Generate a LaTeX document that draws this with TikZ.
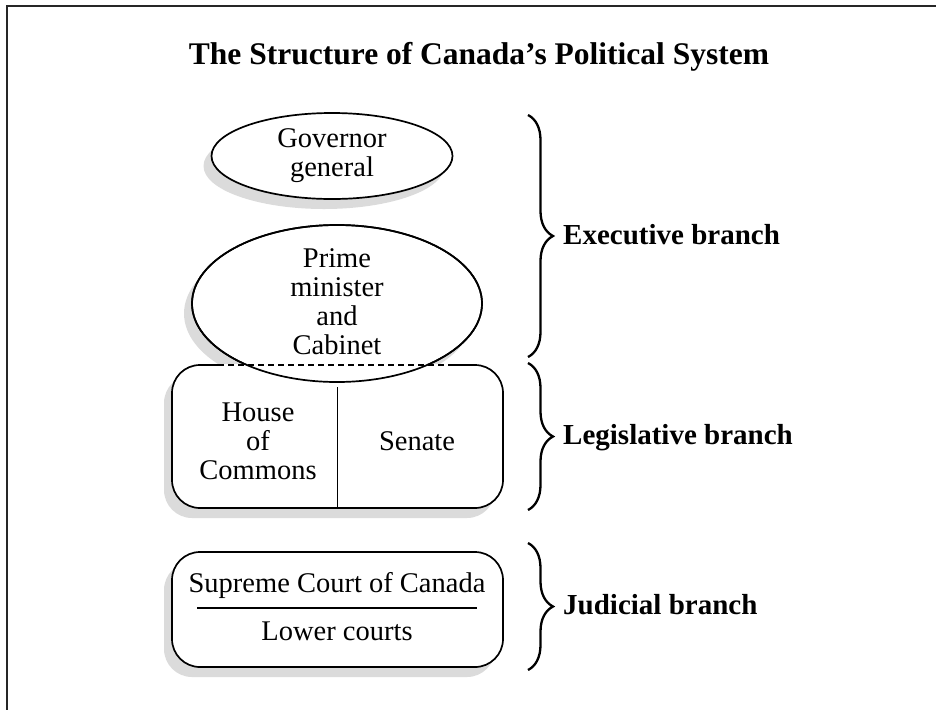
\documentclass[tikz,border=0pt]{standalone}
\usepackage{fontspec}
\setmainfont{Liberation Serif}
\usetikzlibrary{calc,positioning,shapes.geometric,shadows}
\usetikzlibrary{decorations.pathreplacing}
\definecolor{shadowgray}{gray}{0.86}
\tikzset{
    x=1pt, y=-1pt, % pixel-like coordinates, y runs downwards
    body/.style={font=\fontsize{28.5}{29}\selectfont, align=center, inner sep=0pt},
    title/.style={font=\fontsize{31.5}{34}\selectfont\bfseries, anchor=base, inner sep=0pt},
    branch/.style={font=\fontsize{29}{30}\selectfont\bfseries, anchor=base west, inner sep=0pt},
    shade/.style={drop shadow={shadow xshift=-8pt, shadow yshift=-10pt, fill=shadowgray, draw=none, opacity=1}},
    oval/.style={ellipse, draw, fill=white, line width=1.7pt, inner sep=0pt, shade},
    panel/.style={rectangle, rounded corners=28pt, draw, fill=white, line width=1.7pt, minimum width=331pt, shade},
    curly/.style={decorate, decoration={brace, amplitude=25pt}, line width=2.3pt},
}

\begin{document}
\begin{tikzpicture}
  \useasboundingbox (0,0) rectangle (936,710);
  % frame
  \draw[line width=1.6pt, black!85] (936,6) -- (7,6) -- (7,710);

  \node[title] (title) at (479,64) {The Structure of Canada’s Political System};

  % Executive
  \node[oval, body, minimum width=241pt, minimum height=86pt] (gg) at (332,156) {Governor\\general};
  \node[oval, minimum width=290pt, minimum height=157pt] (pm) at (337,303.5) {};

  % Legislative
  \node[panel, minimum height=143pt] (leg) at (337.5,436.5) {};
  \coordinate (dl) at (218,365);
  \coordinate (dr) at (448,365);
  \draw[white, line width=3pt] (dl) -- (dr);
  \draw[line width=1.7pt] (pm.center) ellipse [x radius=145, y radius=78.5];
  \draw[dashed, line width=1.1pt, dash pattern=on 6pt off 4pt] (dl) -- (dr);
  \node[body] (pmtext) at (337,302) {Prime\\minister\\and\\Cabinet};
  \draw[line width=1.7pt] ([yshift=-23pt]leg.north) -- (leg.south);
  \node[body] (hoc) at (258,441) {House\\of\\Commons};
  \node[body] (sen) at (417,441) {Senate};

  % Judicial
  \node[panel, minimum height=115pt] (jud) at (337.5,609.5) {};
  \node[body] (sup) at (337,585) {Supreme Court of Canada};
  \node[body] (low) at (337,631) {Lower courts};
  \coordinate (r1) at (197,608);
  \coordinate (r2) at (477,608);
  \draw[line width=1.8pt] (r1) -- (r2);

  % braces
  \coordinate (e1) at (528,115);
  \coordinate (e2) at (528,357);
  \coordinate (l1) at (528,363);
  \coordinate (l2) at (528,510);
  \coordinate (j1) at (528,543);
  \coordinate (j2) at (528,670);
  \draw[curly] (e1) -- (e2);
  \draw[curly] (l1) -- (l2);
  \draw[curly] (j1) -- (j2);
  \node[branch] (exec) at (563,244) {Executive branch};
  \node[branch] (legis) at (563,444.5) {Legislative branch};
  \node[branch] (judic) at (563,614.5) {Judicial branch};
\end{tikzpicture}
\end{document}
